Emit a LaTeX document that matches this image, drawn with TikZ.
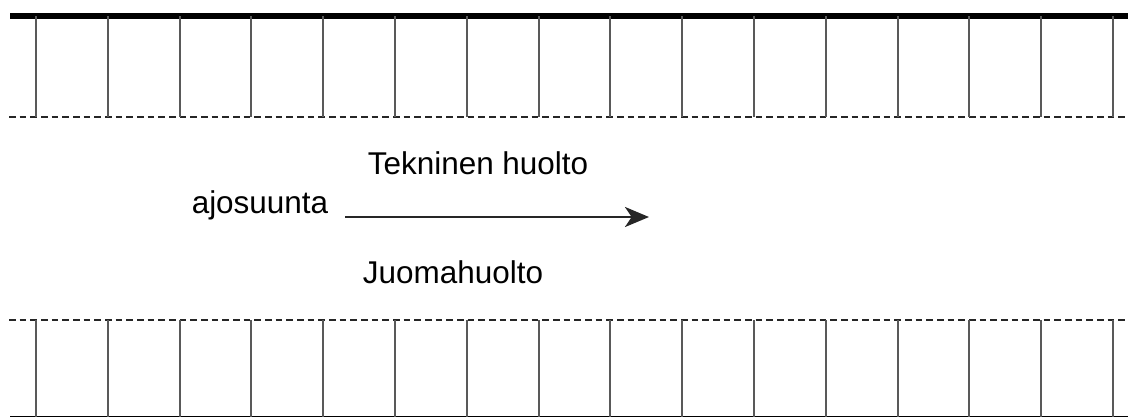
\documentclass[tikz,border=0pt]{standalone}
\usepackage{fontspec}
\setmainfont{Liberation Sans}
\usetikzlibrary{arrows.meta}
\tikzset{>=stealth}
\tikzset{
  curb/.style={line width=4pt,black},
  edge/.style={line width=1.3pt,black},
  gap/.style={line width=1.4pt,black!85,dash pattern=on 5pt off 3pt},
  post/.style={line width=1.4pt,black!65},
  lbl/.style={font=\fontsize{23.6}{28}\selectfont,inner sep=0pt,anchor=base}
}

\begin{document}
\begin{tikzpicture}[x=0.75pt,y=-0.75pt]
        \useasboundingbox (0,0) rectangle (1128,418);

        % Upper row
        \draw[curb] (10,16) -- (1128,16);
        \draw[gap] (9,117) -- (1128,117);
        \foreach \i in {0,...,15}
          \draw[post] ({36+71.8*\i},16) -- ({36+71.8*\i},117);

        % Lower row
        \draw[gap] (9,320) -- (1128,320);
        \draw[edge] (10,416.5) -- (1128,416.5);
        \foreach \i in {0,...,15}
          \draw[post] ({36+71.8*\i},320) -- ({36+71.8*\i},417);

        % Labels
        \node[lbl] at (478,174) (tekn) {Tekninen huolto};
        \node[lbl] at (260,213) (suunta) {ajosuunta};
        \node[lbl] at (453,283) (juoma) {Juomahuolto};

        % Direction
        \coordinate (from) at (345,217);
        \coordinate (to) at (649,217);
        \draw[line width=2.1pt,black!85,-{Stealth[length=18pt,width=15pt,inset=5pt]}] (from) -- (to);

      \end{tikzpicture}
\end{document}
